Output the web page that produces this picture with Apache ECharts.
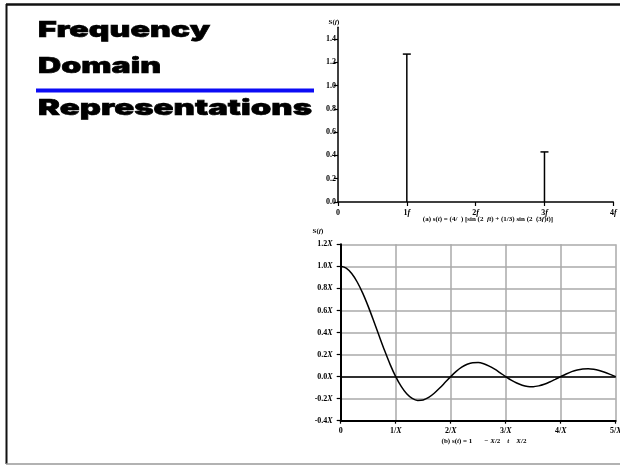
<!DOCTYPE html>
<html>
<head>
<meta charset="utf-8">
<script src="https://cdn.jsdelivr.net/npm/echarts@6/dist/echarts.min.js"></script>
<style>
html,body{margin:0;padding:0;background:#fff;}
#c{width:620px;height:465px;}
</style>
</head>
<body>
<div id="c"></div>
<script>
// ---- Data ----
// (a) spectrum: harmonic frequencies (multiples of f) and amplitudes
const specFreqs = [1, 3];
const specAmps = [1.27, 0.43];
const specXTicks = [0, 1, 2, 3, 4];
const specYTicks = [0, 0.2, 0.4, 0.6, 0.8, 1.0, 1.2, 1.4];

// (b) spectrum of rectangular pulse (x in units of 1/X, y in units of X)
const pulseX = [0,0.1,0.2,0.3,0.4,0.5,0.6,0.7,0.8,0.9,1.0,1.1,1.2,1.3,1.4,1.5,1.6,1.7,1.8,1.9,2.0,2.1,2.2,2.3,2.4,2.5,2.6,2.7,2.8,2.9,3.0,3.1,3.2,3.3,3.4,3.5,3.6,3.7,3.8,3.9,4.0,4.1,4.2,4.3,4.4,4.5,4.6,4.7,4.8,4.9,5.0];
const pulseY = [1.0,0.984,0.935,0.858,0.757,0.637,0.505,0.368,0.234,0.109,0.0,-0.089,-0.156,-0.198,-0.216,-0.212,-0.189,-0.151,-0.104,-0.052,0.0,0.047,0.085,0.112,0.126,0.127,0.116,0.095,0.067,0.034,0.0,-0.032,-0.058,-0.078,-0.089,-0.091,-0.084,-0.070,-0.049,-0.025,0.0,0.024,0.045,0.060,0.069,0.071,0.066,0.055,0.039,0.020,0.0];
const pulseXTicks = [0, 1, 2, 3, 4, 5];
const pulseYTicks = [-0.4, -0.2, 0.0, 0.2, 0.4, 0.6, 0.8, 1.0, 1.2];

const titleLines = ['Frequency', 'Domain', 'Representations'];
const captionA = ['(a) s(', 't', ') = (4/  ) [sin (2  ', 'ft', ') + (1/3) sin (2  (3', 'f', ')', 't', ')]'];
const captionB = ['(b) s(', 't', ') = 1       \u2212 ', 'X', '/2    ', 't', '    ', 'X', '/2'];

// ---- Styles ----
const SERIF = '"Liberation Serif","Times New Roman",serif';
const lab = {fontFamily: SERIF, fontWeight: 'bold', fontSize: 8, color: '#000'};
const labI = Object.assign({}, lab, {fontStyle: 'italic'});

function richText(parts) {
  return parts.map((p, i) => i % 2 === 0 ? '{n|' + p + '}' : '{i|' + p + '}').join('');
}

const chart = echarts.init(document.getElementById('c'), null, {renderer: 'canvas'});

const TITLE_FONT_FAMILY = 'Inter, "Liberation Sans", "DejaVu Sans", sans-serif';
const TITLE_SIZE = 22;
const titleFont = '900 ' + TITLE_SIZE + 'px ' + TITLE_FONT_FAMILY;
const mctx = document.createElement('canvas').getContext('2d');
mctx.font = titleFont;
const titleTargets = [173, 124, 275];
const titleY = [30.5, 66.5, 108.2];

const graphics = [];
graphics.push({type: 'line', shape: {x1: 6.5, y1: 4, x2: 6.5, y2: 464}, style: {stroke: '#111', lineWidth: 2}, z: 10});
graphics.push({type: 'line', shape: {x1: 6, y1: 4.5, x2: 620, y2: 4.5}, style: {stroke: '#111', lineWidth: 2.5}, z: 10});
graphics.push({type: 'line', shape: {x1: 6, y1: 464, x2: 620, y2: 464}, style: {stroke: '#999', lineWidth: 1.5}, z: 10});
graphics.push({type: 'line', shape: {x1: 36, y1: 90.5, x2: 314, y2: 90.5}, style: {stroke: '#0c0cf5', lineWidth: 4}, z: 10});
titleLines.forEach((t, i) => {
  const w = mctx.measureText(t).width;
  graphics.push({
    type: 'text', x: 38, y: titleY[i], scaleX: titleTargets[i] / (w + 0.6), z: 11,
    style: {text: t, font: titleFont, fill: '#000', stroke: '#000', lineWidth: 0.6,
            textAlign: 'left', textVerticalAlign: 'middle'}
  });
});
const smallRich = {n: {font: 'bold 7px ' + SERIF, fill: '#000'}, i: {font: 'italic bold 7px ' + SERIF, fill: '#000'}};
graphics.push({type: 'text', x: 334, y: 22.5, z: 11, style: {
  text: '{n|S(}{i|f}{n|)}', textAlign: 'center', textVerticalAlign: 'middle', rich: smallRich}});
graphics.push({type: 'text', x: 318, y: 231, z: 11, style: {
  text: '{n|S(}{i|f}{n|)}', textAlign: 'center', textVerticalAlign: 'middle', rich: smallRich}});
graphics.push({type: 'text', x: 488, y: 219, z: 11, style: {
  text: richText(captionA), textAlign: 'center', textVerticalAlign: 'middle', rich: smallRich}});
graphics.push({type: 'text', x: 484, y: 441.5, z: 11, style: {
  text: richText(captionB), textAlign: 'center', textVerticalAlign: 'middle', rich: smallRich}});

const option = {
  animation: false,
  backgroundColor: '#fff',
  grid: [
    {left: 338, right: 6.7, top: 27.3, bottom: 263, outerBoundsMode: 'none', containLabel: false},
    {left: 340.7, right: 4.3, top: 244.3, bottom: 44.3, outerBoundsMode: 'none', containLabel: false}
  ],
  xAxis: [
    {
      gridIndex: 0, type: 'value', min: 0, max: 4, interval: 1,
      axisLine: {onZero: false, lineStyle: {color: '#000', width: 1.5}},
      axisTick: {show: true, length: 4, lineStyle: {color: '#000', width: 1.2}},
      splitLine: {show: false},
      axisLabel: {
        margin: 7, customValues: specXTicks, hideOverlap: false,
        formatter: v => v === 0 ? '{n|0}' : '{n|' + v + '}{i|f}',
        rich: {n: lab, i: labI}
      }
    },
    {
      gridIndex: 1, type: 'value', min: 0, max: 5, interval: 1,
      axisLine: {onZero: false, lineStyle: {color: '#000', width: 2}},
      axisTick: {show: true, length: 3, lineStyle: {color: '#000', width: 1.2}},
      splitLine: {show: true, lineStyle: {color: '#aaa', width: 1.5}},
      axisLabel: {
        margin: 6, customValues: pulseXTicks, hideOverlap: false,
        formatter: v => v === 0 ? '{n|0}' : '{n|' + v + '/}{i|X}',
        rich: {n: lab, i: labI}
      }
    }
  ],
  yAxis: [
    {
      gridIndex: 0, type: 'value', min: 0, max: 1.5,
      axisLine: {show: true, lineStyle: {color: '#000', width: 1.5}},
      axisTick: {show: true, length: 4, customValues: specYTicks, lineStyle: {color: '#000', width: 1.2}},
      splitLine: {show: false},
      axisLabel: {
        margin: 2, customValues: specYTicks,
        formatter: v => v.toFixed(1),
        fontFamily: SERIF, fontWeight: 'bold', fontSize: 8, color: '#000'
      }
    },
    {
      gridIndex: 1, type: 'value', min: -0.4, max: 1.2, interval: 0.2,
      axisLine: {show: true, onZero: false, lineStyle: {color: '#000', width: 2}},
      axisTick: {show: true, length: 4, lineStyle: {color: '#000', width: 1.2}},
      splitLine: {show: true, lineStyle: {color: '#aaa', width: 1.5}},
      axisLabel: {
        margin: 8, customValues: pulseYTicks,
        formatter: v => '{n|' + v.toFixed(1) + '}{i|X}',
        rich: {n: lab, i: labI}
      }
    }
  ],
  series: [
    {
      type: 'custom', xAxisIndex: 0, yAxisIndex: 0,
      data: specFreqs.map((f, i) => [f, specAmps[i]]),
      renderItem: function (params, api) {
        const x = api.value(0), v = api.value(1);
        const p0 = api.coord([x, 0]);
        const p1 = api.coord([x, v]);
        return {type: 'group', children: [
          {type: 'line', shape: {x1: p0[0], y1: p0[1], x2: p1[0], y2: p1[1]}, style: {stroke: '#000', lineWidth: 1.5}},
          {type: 'line', shape: {x1: p1[0] - 4, y1: p1[1], x2: p1[0] + 4, y2: p1[1]}, style: {stroke: '#000', lineWidth: 1.5}}
        ]};
      }
    },
    {
      type: 'line', xAxisIndex: 1, yAxisIndex: 1,
      data: pulseX.map((x, i) => [x, pulseY[i]]),
      showSymbol: false, smooth: 0.3,
      lineStyle: {color: '#000', width: 1.5},
      markLine: {
        silent: true, symbol: 'none', label: {show: false},
        lineStyle: {color: '#000', width: 1.5, type: 'solid'},
        data: [{yAxis: 0}]
      },
      z: 5
    }
  ],
  graphic: graphics
};
chart.setOption(option);
</script>
</body>
</html>
